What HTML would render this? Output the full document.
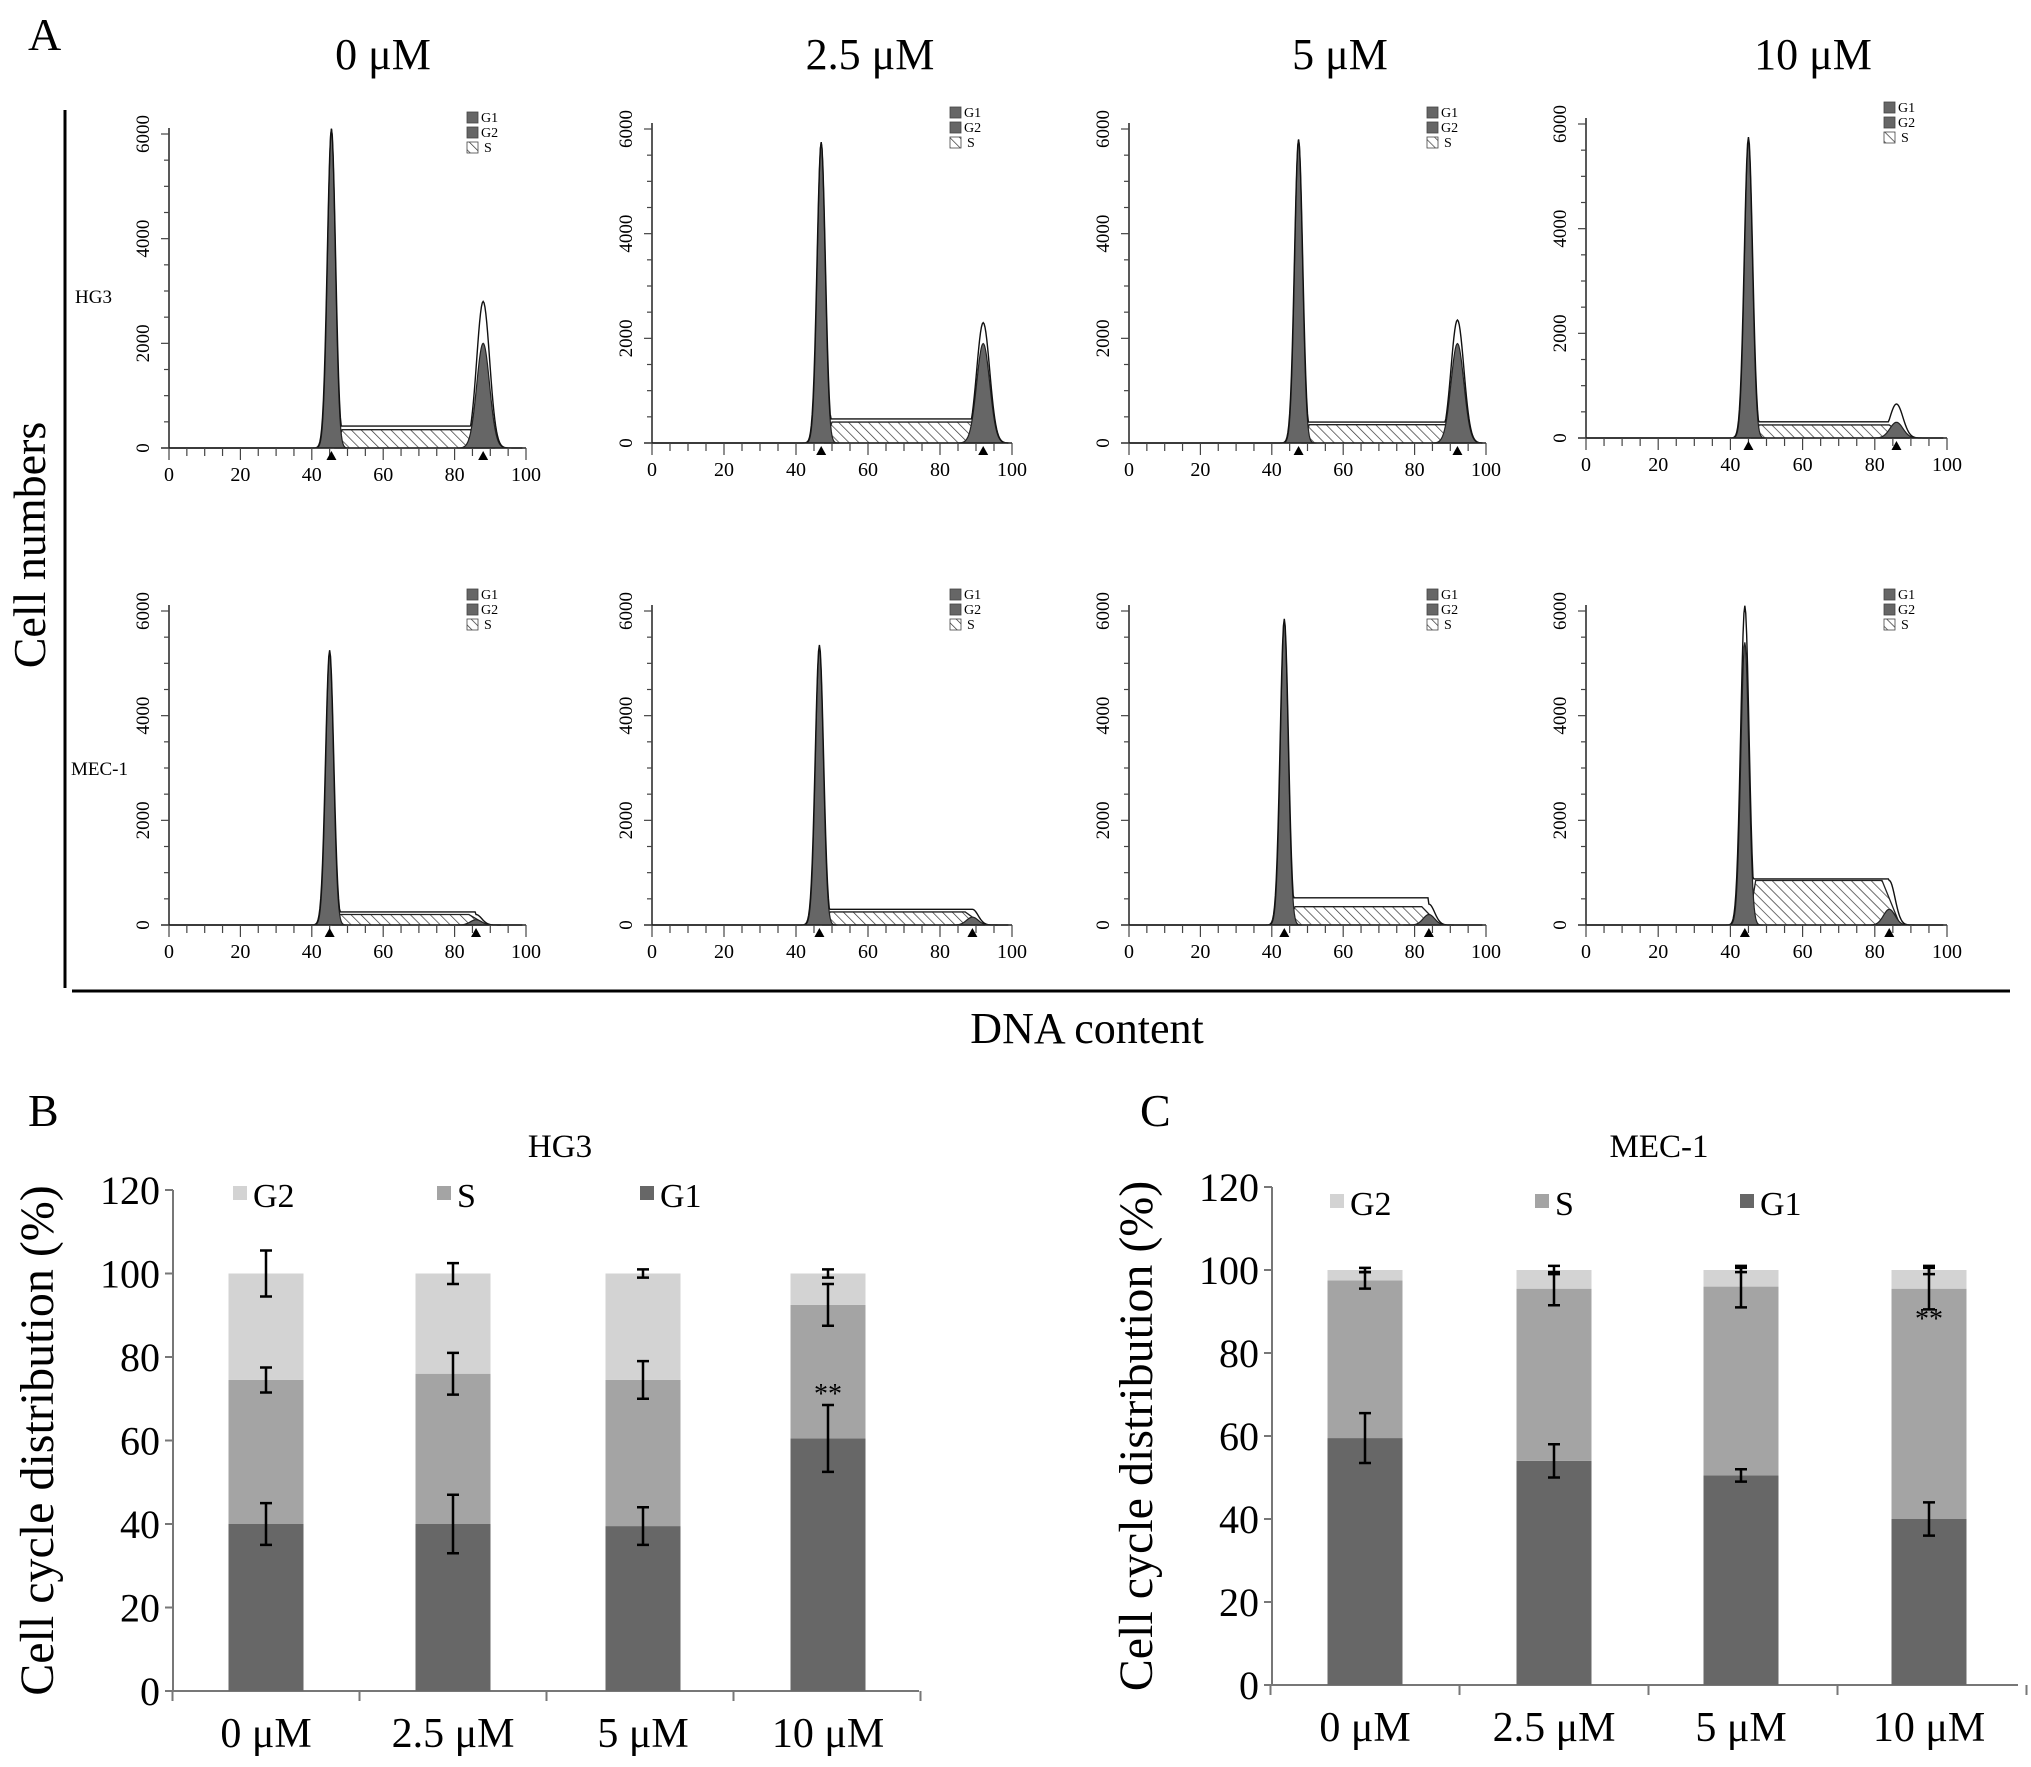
<!DOCTYPE html>
<html><head><meta charset="utf-8"><style>
html,body{margin:0;padding:0;background:#fff}
svg{display:block;font-family:"Liberation Serif",serif}
</style></head><body>
<svg id="fig" width="2031" height="1767" viewBox="0 0 2031 1767">
<defs>
<pattern id="hatch" width="7" height="7" patternUnits="userSpaceOnUse" patternTransform="rotate(-45)">
<rect width="7" height="7" fill="#fff"/><line x1="0" y1="0" x2="0" y2="7" stroke="#333" stroke-width="1.4"/></pattern>
</defs>
<g id="panelA">
<text x="28" y="50" font-size="46">A</text>
<text x="383" y="69" font-size="44" text-anchor="middle">0 μM</text>
<text x="870" y="69" font-size="44" text-anchor="middle">2.5 μM</text>
<text x="1340" y="69" font-size="44" text-anchor="middle">5 μM</text>
<text x="1813" y="69" font-size="44" text-anchor="middle">10 μM</text>
<line x1="65" y1="110" x2="65" y2="988" stroke="#000" stroke-width="3"/>
<line x1="72" y1="991" x2="2010" y2="991" stroke="#000" stroke-width="3"/>
<text transform="translate(45,545) rotate(-90)" font-size="46" text-anchor="middle">Cell numbers</text>
<text x="1087" y="1043" font-size="44" text-anchor="middle">DNA content</text>
<text x="75" y="303" font-size="19">HG3</text>
<text x="71" y="775" font-size="19">MEC-1</text>
</g>
<g id="hist"></g>
<g id="panelB"></g>
<g id="panelC"></g>
</svg>
<script>
// ---- Histogram data (channel position, counts) ----
const histDoses = ["0","2.5","5","10","0","2.5","5","10"];
const histRows = ["HG3","HG3","HG3","HG3","MEC-1","MEC-1","MEC-1","MEC-1"];
const g1Pos = [45.5,47,47.5,45,45,46.5,43.5,44];
const g1Height = [6100,5750,5800,5700,5200,5300,5800,5400];
const g1Outline = [6100,5750,5800,5750,5250,5350,5850,6100];
const g2Pos = [88,92,92,86,86,89,84,84];
const g2Height = [2000,1900,1900,300,100,150,200,300];
const g2Outline = [2800,2300,2350,650,200,300,400,850];
const sLevel = [350,400,350,250,200,250,350,850];
const sOutline = [420,460,400,310,250,300,520,880];
const histXTicks = [0,20,40,60,80,100];
const histYTicks = [0,2000,4000,6000];

// ---- Bar chart data ----
const barCats = ["0 μM","2.5 μM","5 μM","10 μM"];
const yTicks = [0,20,40,60,80,100,120];
const hgG1 = [40,40,39.5,60.5];
const hgS = [34.5,36,35,32];
const hgG2 = [25.5,24,25.5,7.5];
const hgErrG1 = [5,7,4.5,8];
const hgErrS = [3,5,4.5,5];
const hgErrG2 = [5.5,2.5,1,1];
const mecG1 = [59.5,54,50.5,40];
const mecS = [38,41.5,45.5,55.5];
const mecG2 = [2.5,4.5,4,4.5];
const mecErrG1 = [6,4,1.5,4];
const mecErrS = [2,4,5,5];
const mecErrG2 = [0.5,1,0.5,1];

const NS="http://www.w3.org/2000/svg";
function mk(tag,attrs,parent){const e=document.createElementNS(NS,tag);for(const k in attrs)e.setAttribute(k,attrs[k]);parent.appendChild(e);return e;}

// ---- Histograms ----
const colX0=[169,652,1129,1586], colX1=[526,1012,1486,1947];
const rowBase=[448,925];
const hg=document.getElementById('hist');
for(let i=0;i<8;i++){
  const c=i%4,r=Math.floor(i/4);
  const x0=colX0[c],x1=colX1[c],base=rowBase[r]-(r===0&&c>0?(c===3?10:5):0);
  const sx=v=>x0+(v/100)*(x1-x0);
  const sy=v=>base-v*(314/6000);
  const g=mk('g',{},hg);
  
  
  const gauss=(x,m,h,w)=>h*Math.exp(-0.5*((x-m)/w)**2);
  const sw1=1.1, sw2=r===0?1.8:1.6;
  const sEnd=g2Pos[i]-2;
  let d=`M${sx(g1Pos[i]+1)},${sy(0)}`;
  d+=` L${sx(g1Pos[i]+3)},${sy(sLevel[i])} L${sx(sEnd)},${sy(sLevel[i])} L${sx(g2Pos[i]+3)},${sy(0)} Z`;
  const sp=mk('path',{d:d,fill:'url(#hatch)',stroke:'#222','stroke-width':1.3},g);
  
  let p1=`M${sx(g1Pos[i]-5)},${sy(0)}`;
  for(let x=g1Pos[i]-5;x<=g1Pos[i]+5;x+=0.2)p1+=` L${sx(x)},${sy(gauss(x,g1Pos[i],g1Height[i],sw1))}`;
  p1+=` L${sx(g1Pos[i]+5)},${sy(0)} Z`;
  const e1=mk('path',{d:p1,fill:'#666',stroke:'#222','stroke-width':1.2},g);
  
  let p2=`M${sx(g2Pos[i]-7)},${sy(0)}`;
  for(let x=g2Pos[i]-7;x<=g2Pos[i]+7;x+=0.2)p2+=` L${sx(x)},${sy(gauss(x,g2Pos[i],g2Height[i],sw2))}`;
  p2+=` L${sx(g2Pos[i]+7)},${sy(0)} Z`;
  const e2=mk('path',{d:p2,fill:'#666',stroke:'#222','stroke-width':1.2},g);
  
  let o=`M${sx(0)},${sy(0)}`;
  for(let x=0;x<=99;x+=0.25){
    let sv=(x>g1Pos[i]+1.5&&x<g2Pos[i])?sOutline[i]:0;
    let v=Math.max(gauss(x,g1Pos[i],g1Outline[i],sw1*1.05),gauss(x,g2Pos[i],g2Outline[i],sw2),sv);
    o+=` L${sx(x)},${sy(v)}`;
  }
  const ol=mk('path',{d:o,fill:'none',stroke:'#111','stroke-width':1.4},g);
  
  const ax=mk('line',{x1:x0,y1:base,x2:x0,y2:sy(6000)-6,stroke:'#222','stroke-width':1.5},g);
  
  const bx=mk('line',{x1:x0-8,y1:base,x2:x1,y2:base,stroke:'#222','stroke-width':1.5},g);
  
  for(let v=0;v<=6000;v+=500){const t=mk('line',{x1:x0-(v%2000===0?8:5),y1:sy(v),x2:x0,y2:sy(v),stroke:'#444','stroke-width':1.2},g);}
  for(let v=0;v<=100;v+=5){const t=mk('line',{x1:sx(v),y1:base,x2:sx(v),y2:base+(v%20===0?12:8),stroke:'#444','stroke-width':1.2},g);}
  histXTicks.forEach(v=>{const t=mk('text',{x:sx(v),y:base+33,'font-size':20,'text-anchor':'middle'},g);t.textContent=v;});
  histYTicks.forEach(v=>{const t=mk('text',{transform:`translate(${x0-20},${sy(v)}) rotate(-90)`,'font-size':19,'text-anchor':'middle'},g);t.textContent=v;});
  [g1Pos[i],g2Pos[i]].forEach(p=>{const t=mk('path',{d:`M${sx(p)-5},${base+12} L${sx(p)+5},${base+12} L${sx(p)},${base+3} Z`,fill:'#000'},g);});
  const lx=x0+298, ly=sy(6000)-22;
  const leg=mk('g',{},g);
  [['G1','#666'],['G2','#666'],['S','url(#hatch)']].forEach((L,k)=>{
    mk('rect',{x:lx,y:ly+k*15,width:11,height:11,fill:L[1],stroke:'#444','stroke-width':0.8},leg);
    const t=mk('text',{x:lx+14+(k===2?3:0),y:ly+k*15+10,'font-size':14},leg);t.textContent=L[0];
  });
}

// ---- Bar charts ----
function barChart(id,title,letter,ax,y0,y120,xEnd,centers,G1,S,G2,eG1,eS,eG2,starIdx,starVal,titleX,legX,legY,letterX){
  const g=document.getElementById(id);
  const sy=v=>y0-(v/120)*(y0-y120);
  const t1=mk('text',{x:letterX,y:1126,'font-size':46},g);t1.textContent=letter;
  const t2=mk('text',{x:titleX,y:1157,'font-size':33,'text-anchor':'middle'},g);t2.textContent=title;
  const yt=mk('text',{transform:`translate(${ax-120},${sy(60)}) rotate(-90)`,'font-size':48,'text-anchor':'middle'},g);yt.textContent='Cell cycle distribution (%)';
  const ya=mk('line',{x1:ax,y1:sy(0),x2:ax,y2:sy(120),stroke:'#777','stroke-width':2},g);
  const xa=mk('line',{x1:ax,y1:sy(0),x2:xEnd,y2:sy(0),stroke:'#777','stroke-width':2},g);
  yTicks.forEach(v=>{
    const tk=mk('line',{x1:ax-8,y1:sy(v),x2:ax,y2:sy(v),stroke:'#777','stroke-width':2},g);
    const tl=mk('text',{x:ax-13,y:sy(v)+14,'font-size':40,'text-anchor':'end'},g);tl.textContent=v;
  });
  const step=centers[1]-centers[0];
  for(let k=0;k<=4;k++){const x=centers[0]-step/2+k*step;const tk=mk('line',{x1:x,y1:sy(0),x2:x,y2:sy(0)+10,stroke:'#777','stroke-width':2},g);}
  const bw=75;
  barCats.forEach((c,i)=>{
    const cx=centers[i];
    const segs=[[0,G1[i],'#676767','g1'],[G1[i],G1[i]+S[i],'#a4a4a4','s'],[G1[i]+S[i],G1[i]+S[i]+G2[i],'#d3d3d3','g2']];
    segs.forEach(s=>{const r=mk('rect',{x:cx-bw/2,y:sy(s[1]),width:bw,height:sy(s[0])-sy(s[1]),fill:s[2]},g);});
    [[G1[i],eG1[i]],[G1[i]+S[i],eS[i]],[G1[i]+S[i]+G2[i],eG2[i]]].forEach(e=>{
      const p=mk('path',{d:`M${cx},${sy(e[0]+e[1])} V${sy(e[0]-e[1])} M${cx-6},${sy(e[0]+e[1])} H${cx+6} M${cx-6},${sy(e[0]-e[1])} H${cx+6}`,stroke:'#000','stroke-width':2.5,fill:'none'},g);
      
    });
    const cl=mk('text',{x:cx,y:sy(0)+56,'font-size':42,'text-anchor':'middle'},g);cl.textContent=c;
  });
  const st=mk('text',{x:centers[starIdx],y:sy(starVal),'font-size':28,'text-anchor':'middle'},g);st.textContent='**';
  [['G2','#d3d3d3'],['S','#a4a4a4'],['G1','#676767']].forEach((L,k)=>{
    const lg=mk('g',{},g);
    mk('rect',{x:legX[k],y:legY-10,width:14,height:14,fill:L[1]},lg);
    const t=mk('text',{x:legX[k]+20,y:legY+11,'font-size':34},lg);t.textContent=L[0];
  });
}
barChart('panelB','HG3','B',173,1691,1190,919,[266,453,643,828],hgG1,hgS,hgG2,hgErrG1,hgErrS,hgErrG2,3,69,560,[233,437,640],1196,28);
barChart('panelC','MEC-1','C',1272,1685,1187,2018,[1365,1554,1741,1929],mecG1,mecS,mecG2,mecErrG1,mecErrS,mecErrG2,3,86,1659,[1330,1535,1740],1204,1140);
</script>
</body></html>
